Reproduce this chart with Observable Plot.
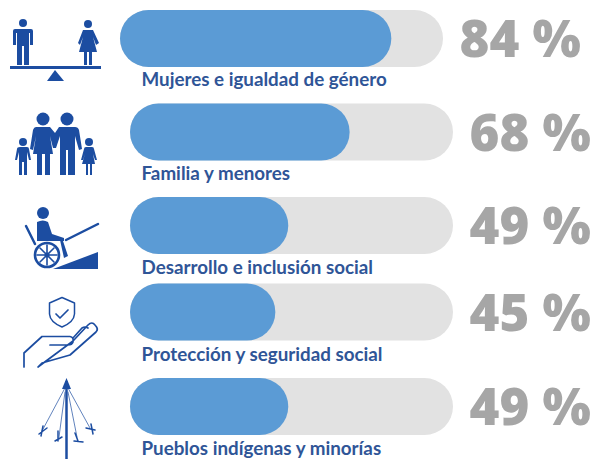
<!DOCTYPE html>
<html>
<head>
<meta charset="utf-8">
<script src="https://cdn.jsdelivr.net/npm/d3@7"></script>
<script src="https://cdn.jsdelivr.net/npm/@observablehq/plot@0.6"></script>
<style>
html,body{margin:0;padding:0;background:#fff}
svg{display:block}
</style>
</head>
<body>
<div id="chart"></div>
<script>
const categories = ["Mujeres e igualdad de género","Familia y menores","Desarrollo e inclusión social","Protección y seguridad social","Pueblos indígenas y minorías"];
const values = [84,68,49,45,49];

const W = 593, H = 459;
const rowDx = [-10,0,0,0,0];
const rowDy = [0,1.5,3,-2.5,0];
const labelDy = [41,41.5,41.5,42,41.5];
const valueDy = [2,2.5,2,2,2];

const ICON = "#1c4da1";
const iconFilled = [
 "M15,29H31Q33,29 33,31V45H30V33H29V65H24V46H22V65H17V33H16V45H13V31Q13,29 15,29Z",
 "M83,30H93L99,43L96,45L93,37L97,52H92V65H89V52H87V65H84V52H79L83,37L80,45L78,43Z",
 "M10,66H101V69H10Z",
 "M55,70L64,81H47Z",
 "M36,127H50L55,133L59,127H75Q78,127 79,130L82,149L79,150L75,136V175H68V150H66V175H60V136L56,148L53,148L50,136L53,154H50V175H45V154H42V175H37V154H33L36,136L33,150L30,149L33,130Q34,127 36,127Z",
 "M20,147H27Q29,147 29,149L31,160L29,160L27,152V175H24V162H22V175H19V152L17,160L15,160L17,149Q17,147 20,147Z",
 "M86,147H92Q94,147 94,149L97,160L95,160L93,154L95,164H92V175H90V164H88V175H86V164H82L85,154L83,160L81,160L84,149Q84,147 86,147Z",
 "M37,222Q43,219 48,222L52,234L64,238V241L50,241L46,241H37Z",
 "M53,269L98,252V269Z",
 "M60,240L63,241L68,256L64,258Z"
];
const iconCircles = [[23,23,4],[88,24,4],[43,119,6.5],[67,119,6.5],[23,142,4],[89,142,4],[43,213,6],[47,255,2.5]];
const iconStroked = [
 {d:"M66,240L98,224",w:2.5},
 {d:"M26,226L35,244",w:2.5},
 {d:"M47,243A12,12 0 1 0 47,267A12,12 0 1 0 47,243Z",w:2.6},
 {d:"M47,245V265M37,255H57M40,248L54,262M54,248L40,262",w:1.6},
 {d:"M62,297.5L74.5,303V314Q74,322 62,327Q50,322 49.5,314V303Z",w:1.5},
 {d:"M56,314L60,318L68,310",w:1.7},
 {d:"M24,367V353L42,336.5H70Q74,337 73,342Q72,345 68,345H50M73,341L88,325Q92,321 95,325Q99,329 96,332L70,355L42,363L38,367ZM73,338L82,328Q85,326 88,328",w:1.7},
 {d:"M66.5,382V459",w:2.5},
 {d:"M65,388L42,431M65,392L59,437M68,392L77,437M68,388L90,428",w:0.7},
 {d:"M39,434L47,428M55,441L62,437M58,431V441M74,441L83,442M75,433L78,441M86,428L95,430M91,424L93,434M43,426L41,436",w:1.5}
];

function icons(){
  const g = d3.create("svg:g").attr("aria-label","icons");
  iconFilled.forEach(d=>g.append("path").attr("d",d).attr("fill",ICON));
  iconCircles.forEach(([cx,cy,r])=>g.append("circle").attr("cx",cx).attr("cy",cy).attr("r",r).attr("fill",ICON));
  iconStroked.forEach(s=>g.append("path").attr("d",s.d).attr("fill","none").attr("stroke",ICON).attr("stroke-width",s.w).attr("stroke-linejoin","round").attr("stroke-linecap","round"));
  g.append("path").attr("d","M66.5,378L71,389H62Z").attr("fill",ICON);
  return g.node();
}

const rows = categories.map((c,i)=>({category:c,value:values[i],i}));
const marks = [];
rows.forEach(r=>{
  const one=[r], dx=rowDx[r.i], dy=rowDy[r.i];
  marks.push(
    Plot.barX(one,{x1:0,x2:100,y:"category",fill:"#e2e2e2",rx:28.5,dx,dy}),
    Plot.barX(one,{x1:0,x2:"value",y:"category",fill:"#5b9bd5",rx:28.5,dx,dy}),
    Plot.text(one,{x:0,y:"category",text:"category",textAnchor:"start",dx:11,dy:dy+labelDy[r.i],
      fill:"#2f5597",fontFamily:"Lato",fontWeight:700,fontSize:18.8,stroke:"none"}),
    Plot.text(one,{x:100,y:"category",text:d=>d.value+" %",textAnchor:"start",dx:dx+16,dy:dy+valueDy[r.i],
      fill:"#a6a6a6",fontFamily:"Open Sans",fontWeight:800,fontSize:51})
  );
});
marks.push(icons);

const plot = Plot.plot({
  width:W,height:H,
  marginLeft:0,marginRight:0,marginTop:0,marginBottom:0,
  x:{domain:[0,100],range:[130,453],axis:null},
  y:{domain:categories,range:[9,436],paddingInner:0.384,paddingOuter:0,axis:null},
  style:{background:"#fff",overflow:"visible"},
  marks
});
document.getElementById("chart").append(plot);
</script>
</body>
</html>
